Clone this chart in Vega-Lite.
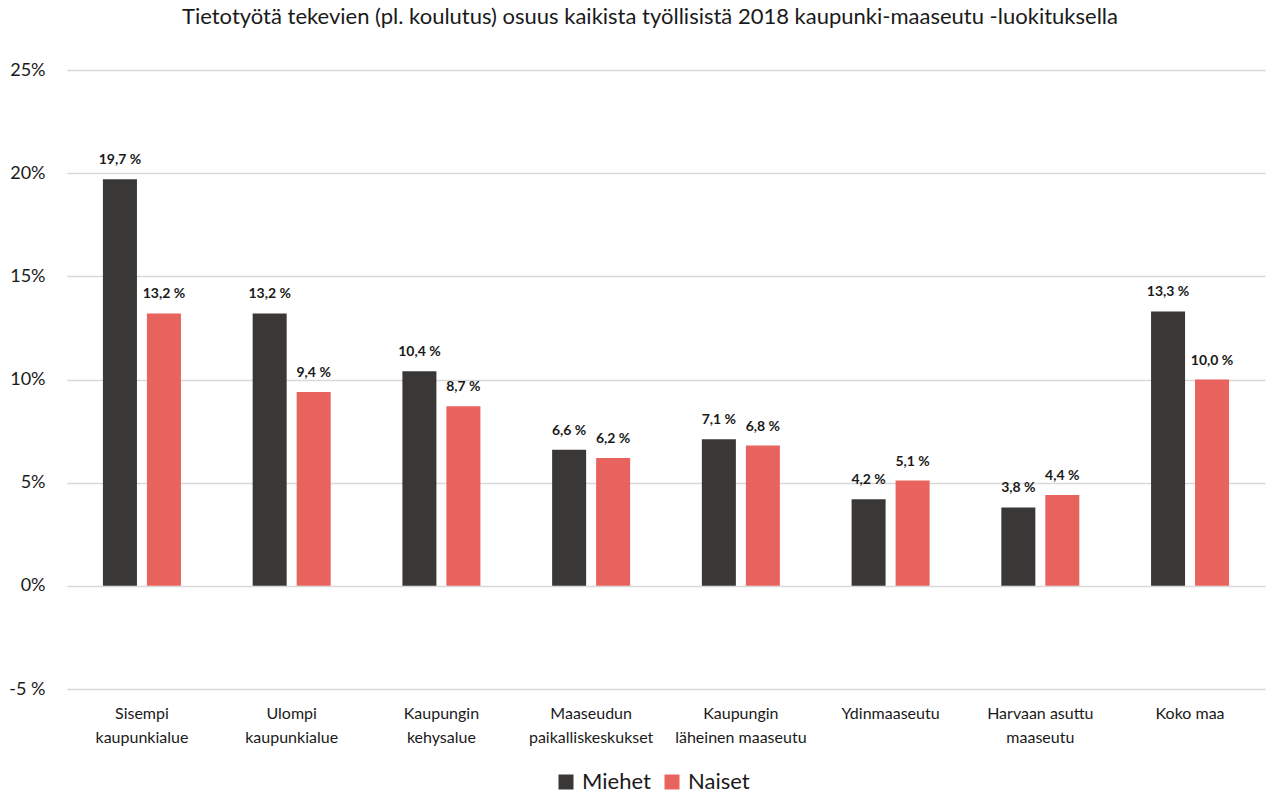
{
  "$schema": "https://vega.github.io/schema/vega-lite/v6.json",
  "width": 1198,
  "height": 619,
  "autosize": {"type": "none"},
  "padding": {"left": 67, "top": 70, "right": 1, "bottom": 107},
  "background": "white",
  "view": {"stroke": null},
  "title": {
    "text": "Tietotyötä tekevien (pl. koulutus) osuus kaikista työllisistä 2018 kaupunki-maaseutu -luokituksella",
    "font": "Lato",
    "fontSize": 22,
    "fontWeight": "normal",
    "color": "#1a1a1a",
    "anchor": "middle",
    "dx": -16,
    "offset": 32
  },
  "data": {
    "values": [
      {"alue": "Sisempi kaupunkialue", "sukupuoli": "Miehet", "osuus": 19.7},
      {"alue": "Sisempi kaupunkialue", "sukupuoli": "Naiset", "osuus": 13.2},
      {"alue": "Ulompi kaupunkialue", "sukupuoli": "Miehet", "osuus": 13.2},
      {"alue": "Ulompi kaupunkialue", "sukupuoli": "Naiset", "osuus": 9.4},
      {"alue": "Kaupungin kehysalue", "sukupuoli": "Miehet", "osuus": 10.4},
      {"alue": "Kaupungin kehysalue", "sukupuoli": "Naiset", "osuus": 8.7},
      {"alue": "Maaseudun paikalliskeskukset", "sukupuoli": "Miehet", "osuus": 6.6},
      {"alue": "Maaseudun paikalliskeskukset", "sukupuoli": "Naiset", "osuus": 6.2},
      {"alue": "Kaupungin läheinen maaseutu", "sukupuoli": "Miehet", "osuus": 7.1},
      {"alue": "Kaupungin läheinen maaseutu", "sukupuoli": "Naiset", "osuus": 6.8},
      {"alue": "Ydinmaaseutu", "sukupuoli": "Miehet", "osuus": 4.2},
      {"alue": "Ydinmaaseutu", "sukupuoli": "Naiset", "osuus": 5.1},
      {"alue": "Harvaan asuttu maaseutu", "sukupuoli": "Miehet", "osuus": 3.8},
      {"alue": "Harvaan asuttu maaseutu", "sukupuoli": "Naiset", "osuus": 4.4},
      {"alue": "Koko maa", "sukupuoli": "Miehet", "osuus": 13.3},
      {"alue": "Koko maa", "sukupuoli": "Naiset", "osuus": 10.0}
    ]
  },
  "encoding": {
    "x": {
      "field": "alue",
      "type": "nominal",
      "sort": ["Sisempi kaupunkialue", "Ulompi kaupunkialue", "Kaupungin kehysalue", "Maaseudun paikalliskeskukset", "Kaupungin läheinen maaseutu", "Ydinmaaseutu", "Harvaan asuttu maaseutu", "Koko maa"],
      "scale": {"paddingInner": 0.479, "paddingOuter": 0.24},
      "axis": {
        "title": null,
        "domain": false,
        "ticks": false,
        "grid": false,
        "labelAngle": 0,
        "labelPadding": 16,
        "labelFont": "Lato",
        "labelFontSize": 16,
        "labelLineHeight": 24,
        "labelColor": "#1a1a1a",
        "labelExpr": "datum.label == 'Harvaan asuttu maaseutu' ? ['Harvaan asuttu', 'maaseutu'] : (datum.label == 'Koko maa' || datum.label == 'Ydinmaaseutu') ? datum.label : split(replace(datum.label, / /, '|'), '|')"
      }
    },
    "xOffset": {
      "field": "sukupuoli",
      "type": "nominal",
      "sort": ["Miehet", "Naiset"],
      "scale": {"paddingInner": 0.227, "paddingOuter": 0}
    },
    "y": {
      "field": "osuus",
      "type": "quantitative",
      "scale": {"domain": [-5, 25], "nice": false, "zero": false},
      "axis": {
        "title": null,
        "values": [-5, 0, 5, 10, 15, 20, 25],
        "domain": false,
        "ticks": false,
        "grid": true,
        "gridColor": "#d9d9d9",
        "gridWidth": 1.5,
        "labelPadding": 22,
        "labelFont": "Lato",
        "labelFontSize": 18,
        "labelColor": "#1a1a1a",
        "labelExpr": "datum.value < 0 ? datum.value + ' %' : datum.value + '%'"
      }
    }
  },
  "layer": [
    {
      "mark": {"type": "bar"},
      "encoding": {
        "color": {
          "field": "sukupuoli",
          "type": "nominal",
          "sort": ["Miehet", "Naiset"],
          "scale": {"domain": ["Miehet", "Naiset"], "range": ["#3a3837", "#e8635d"]},
          "legend": {
            "title": null,
            "orient": "none",
            "legendX": 488,
            "legendY": 701,
            "direction": "horizontal",
            "symbolType": "square",
            "symbolSize": 225,
            "symbolStrokeWidth": 0,
            "labelFont": "Lato",
            "labelFontSize": 22,
            "labelColor": "#1a1a1a",
            "labelOffset": 5,
            "columnSpacing": 20
          }
        }
      }
    },
    {
      "transform": [
        {"calculate": "replace(format(datum.osuus, '.1f'), '.', ',') + ' %'", "as": "teksti"}
      ],
      "mark": {
        "type": "text",
        "baseline": "alphabetic",
        "dy": -15,
        "font": "Lato",
        "fontSize": 14,
        "fontWeight": "bold",
        "color": "#1a1a1a"
      },
      "encoding": {
        "text": {"field": "teksti"}
      }
    }
  ]
}
